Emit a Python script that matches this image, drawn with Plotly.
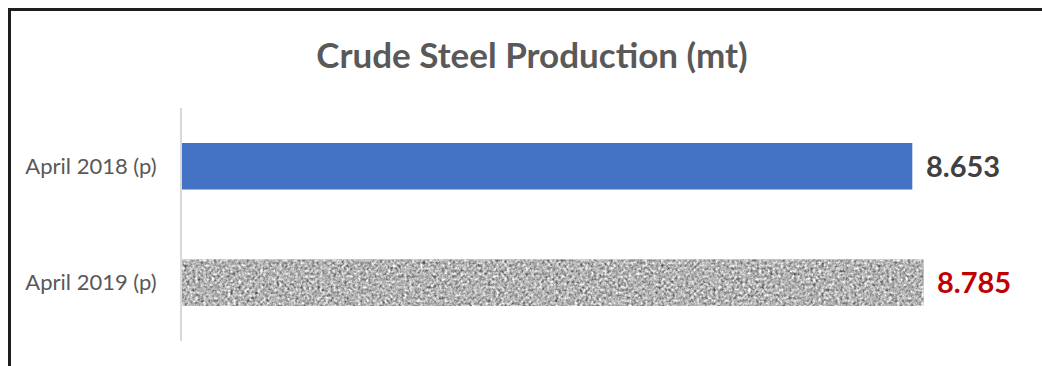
import base64
import plotly.graph_objects as go

categories = ["April 2018 (p)", "April 2019 (p)"]
values = [8.653, 8.785]
value_labels = ["8.653", "8.785"]
label_colors = ["#404040", "#C00000"]
title_text = "Crude Steel Production (mt)"

W, H = 1042, 366
ml, mr, mt, mb = 182, 16, 108, 25
pw = W - ml - mr
ph = H - mt - mb
BAR_W = 0.40
y_range = [1.5, -0.5]

# granite texture as an SVG noise image (fill style of the 2019 bar)
svg = (
    '<svg xmlns="http://www.w3.org/2000/svg" width="760" height="48" viewBox="0 0 760 48">'
    '<filter id="g" x="0" y="0" width="100%" height="100%" color-interpolation-filters="sRGB">'
    '<feTurbulence type="fractalNoise" baseFrequency="0.36" numOctaves="2" seed="7" result="t"/>'
    '<feColorMatrix in="t" type="matrix" values="0.33 0.33 0.33 0 0  0.33 0.33 0.33 0 0  0.33 0.33 0.33 0 0  0 0 0 0 1"/>'
    '<feComponentTransfer>'
    '<feFuncR type="linear" slope="1.7" intercept="-0.14"/>'
    '<feFuncG type="linear" slope="1.7" intercept="-0.14"/>'
    '<feFuncB type="linear" slope="1.7" intercept="-0.14"/>'
    '</feComponentTransfer>'
    '</filter>'
    '<rect width="760" height="48" fill="#b4b4b4" filter="url(#g)"/>'
    '</svg>'
)
tex_uri = "data:image/svg+xml;base64," + base64.b64encode(svg.encode()).decode()

fig = go.Figure()

fig.add_trace(go.Bar(
    y=[categories[0]], x=[values[0]], orientation="h",
    marker=dict(color="#4472C4", line=dict(width=0)),
    width=BAR_W, hoverinfo="skip", showlegend=False,
))
fig.add_trace(go.Bar(
    y=[categories[1]], x=[values[1]], orientation="h",
    marker=dict(color="#b0b0b0", line=dict(width=0)),
    width=BAR_W, hoverinfo="skip", showlegend=False,
))

# texture over the 2019 bar, placed from its value and category index
idx = 1
span = y_range[0] - y_range[1]
yc = (y_range[0] - idx) / span
images = [dict(source=tex_uri, xref="x", yref="paper",
               x=0, sizex=values[idx], y=yc + BAR_W / 2 / span,
               sizey=BAR_W / span,
               xanchor="left", yanchor="top", sizing="stretch", layer="above")]

annotations = []
for cat, v, lab, col in zip(categories, values, value_labels, label_colors):
    annotations.append(dict(
        x=v, y=cat, xref="x", yref="y", text="<b>%s</b>" % lab,
        showarrow=False, xanchor="left", yanchor="middle", xshift=12, yshift=1,
        font=dict(family="Lato", size=29, color=col),
    ))

x_left = (9.5 - ml) / pw
y_top = 1 + (mt - 9.5) / ph
shapes = [dict(type="rect", xref="paper", yref="paper",
               x0=x_left, x1=1.2, y0=-0.5, y1=y_top,
               line=dict(color="#1e1e1e", width=3), fillcolor="rgba(0,0,0,0)", layer="below")]

fig.update_layout(
    width=W, height=H,
    margin=dict(l=ml, r=mr, t=mt, b=mb),
    paper_bgcolor="white", plot_bgcolor="white",
    barmode="overlay",
    title=dict(text="<b>%s</b>" % title_text, x=532 / W, xref="container", xanchor="center",
               y=1 - 56 / H, yref="container", yanchor="middle",
               font=dict(family="Lato", size=35, color="#595959")),
    xaxis=dict(range=[0, 10], showgrid=False, zeroline=False, showline=False,
               showticklabels=False, ticks=""),
    yaxis=dict(type="category", categoryarray=categories, range=y_range,
               showgrid=False, zeroline=False, showline=True, linecolor="#d9d9d9",
               linewidth=2, ticks="", ticklabelstandoff=19,
               tickfont=dict(family="Lato", size=22, color="#595959")),
    annotations=annotations,
    shapes=shapes,
    images=images,
)

fig.write_html("out.html")
